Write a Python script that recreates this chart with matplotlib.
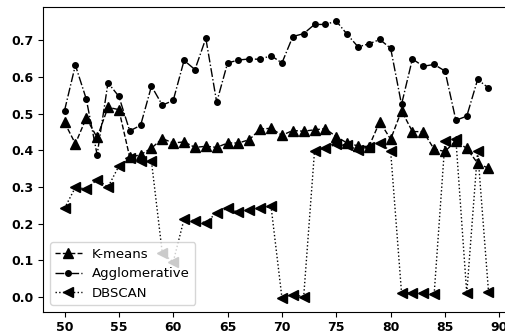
import matplotlib
matplotlib.use("Agg")
import matplotlib.pyplot as plt

x = list(range(50, 90))

kmeans = [0.476, 0.418, 0.488, 0.435, 0.517, 0.511, 0.381, 0.388, 0.406, 0.432,
          0.420, 0.423, 0.408, 0.411, 0.408, 0.420, 0.420, 0.429, 0.458, 0.460,
          0.441, 0.454, 0.452, 0.456, 0.459, 0.437, 0.420, 0.412, 0.410, 0.478,
          0.430, 0.508, 0.451, 0.451, 0.403, 0.397, 0.426, 0.405, 0.365, 0.351]

agglo = [0.508, 0.632, 0.540, 0.388, 0.584, 0.547, 0.453, 0.468, 0.575, 0.523,
         0.536, 0.645, 0.620, 0.705, 0.531, 0.638, 0.646, 0.649, 0.648, 0.658,
         0.638, 0.710, 0.718, 0.743, 0.743, 0.752, 0.716, 0.682, 0.690, 0.702,
         0.678, 0.525, 0.649, 0.629, 0.634, 0.616, 0.482, 0.493, 0.593, 0.570]

dbscan = [0.242, 0.299, 0.295, 0.320, 0.300, 0.357, 0.379, 0.372, 0.370, 0.119,
          0.096, 0.213, 0.208, 0.203, 0.230, 0.242, 0.231, 0.238, 0.242, 0.247,
          -0.002, 0.007, 0.001, 0.399, 0.405, 0.417, 0.415, 0.400, 0.410, 0.421,
          0.397, 0.012, 0.011, 0.011, 0.008, 0.426, 0.430, 0.010, 0.399, 0.015]

series_labels = ["K-means", "Agglomerative", "DBSCAN"]
xticks = [50, 55, 60, 65, 70, 75, 80, 85, 90]
yticks = [0.0, 0.1, 0.2, 0.3, 0.4, 0.5, 0.6, 0.7]

fig = plt.figure(figsize=(5.06, 3.36), dpi=100)
ax = fig.add_axes([43.3 / 506, (336 - 311.7) / 336, (509.7 - 43.3) / 506, 304.4 / 336])

ax.plot(x, kmeans, linestyle="--", marker="^", color="black", markersize=7,
        linewidth=1, label=series_labels[0])
ax.plot(x, agglo, linestyle="-.", marker="o", color="black", markersize=4,
        linewidth=1, label=series_labels[1])
ax.plot(x, dbscan, linestyle=":", marker="<", color="black", markersize=7,
        linewidth=1, label=series_labels[2])

ax.set_xticks(xticks)
ax.set_yticks(yticks)
ax.set_xticklabels([str(v) for v in xticks], fontsize=9, fontweight="bold")
ax.set_yticklabels([f"{v:.1f}" for v in yticks], fontsize=9, fontweight="bold")

ax.legend(loc="lower left", fontsize=9.5)

fig.savefig("out.png", dpi=100)
